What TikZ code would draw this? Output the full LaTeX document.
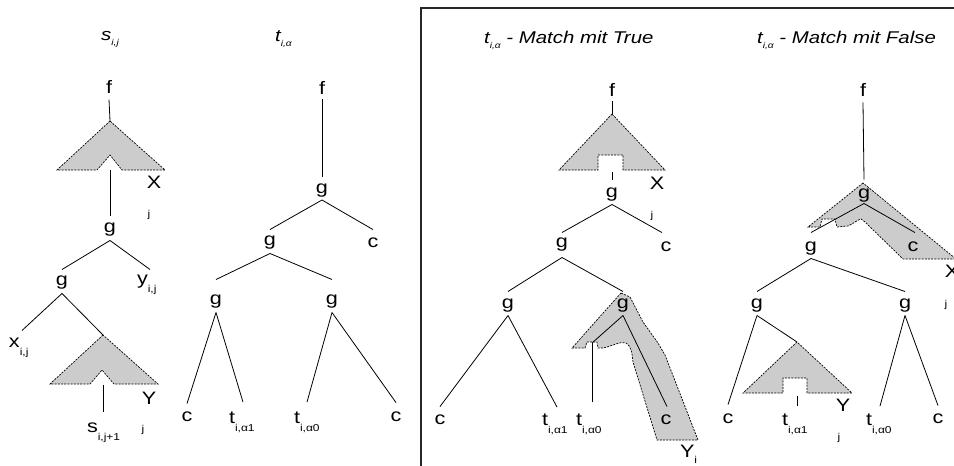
\documentclass[tikz,border=0pt]{standalone}
\usepackage{fontspec}
\setmainfont{Liberation Sans}[FakeStretch=1.2]
\definecolor{shade}{RGB}{204,204,204}
\newcommand\sbx[1]{\raisebox{-8pt}{\fontsize{10}{11}\selectfont #1}}
\newcommand\sbxi[1]{\raisebox{-6pt}{\fontsize{10}{11}\selectfont #1}}
\newcommand\tsb[1]{\raisebox{-5pt}{\fontsize{8.5}{9}\selectfont\itshape #1}}
\newcommand\edge[4]{\draw[tree] ([yshift=-#2pt]#1.south) -- ([yshift=#4pt]#3.north);}
\begin{document}
\begin{tikzpicture}[x=1pt,y=-1pt,
  lab/.style={font=\fontsize{18}{21}\selectfont, inner sep=0pt, outer sep=0pt},
  labb/.style={lab, anchor=base west},
  ttl/.style={font=\fontsize{17}{20}\selectfont\itshape, inner sep=0pt, anchor=base west},
  small/.style={font=\fontsize{10}{11}\selectfont, inner sep=0pt},
  tree/.style={line width=0.8pt},
  hole/.style={fill=shade, draw=black, line width=0.7pt, dash pattern=on 2pt off 1.2pt},
  frame/.style={line width=1.2pt, draw=black!85}]
\useasboundingbox (0,0) rectangle (954,466);
% frame
\draw[frame] (421,466) -- (421,8) -- (954,8);
% ---------- shaded parts ----------
\coordinate (ax1) at (110,121); \coordinate (bx1) at (110,170);
\filldraw[hole] (ax1) -- (57,170) -- (97,170) -- (110,155) -- (122,170) -- (165,170) -- cycle;
\coordinate (ay1) at (103,335); \coordinate (by1) at (103,385);
\filldraw[hole] (ay1) -- (50,384) -- (90,384) -- (102,370) -- (114,384) -- (158,384) -- cycle;
\coordinate (ax3) at (612,114); \coordinate (bx3) at (612,172);
\filldraw[hole] (ax3) -- (559,170) -- (598,170) -- (598,155) -- (623,155) -- (623,170) -- (665,170) -- cycle;
\coordinate (jn3) at (592,343);
\filldraw[hole] (621,293) -- (572,348) -- (585,348) -- (587,342) -- (597,342) -- (598,348) -- (603,348)
  .. controls (613,346) and (620,341) .. (626,343) .. controls (631,346) and (632,352) .. (633,362)
  -- (657,440) -- (698,440) -- (665,355) -- (658,343) -- (643,322) -- (630,297) -- cycle;
\filldraw[hole] (863,183) -- (808,227) -- (820,227) -- (822,219) -- (835,219) -- (837,227) -- (848,226)
  .. controls (853,224) and (857,220) .. (861,219) -- (865,222) -- (903,259) -- (956,259) -- cycle;
\coordinate (ay4) at (797,342); \coordinate (by4) at (797,396);
\filldraw[hole] (ay4) -- (743,393) -- (783,393) -- (783,378) -- (807,378) -- (807,393) -- (852,393) -- cycle;
% ---------- tree 1 ----------
\node[ttl] (T1) at (101,40) {s\tsb{i,j}};
\node[lab] (f1) at (109,87) {f};
\node[lab] (X1) at (154,182) {X};
\node[small] (jX1) at (149,215) {j};
\node[lab] (g1) at (110,230) {g};
\node[lab] (g2) at (62,283) {g};
\node[labb] (yij) at (137,284) {y\sbx{i,j}};
\node[labb] (xij) at (9,347) {x\sbx{i,j}};
\node[lab] (Y1) at (149,398) {Y};
\node[small] (jY1) at (143,430) {j};
\node[labb] (sij) at (87,432) {s\sbx{i,j+1}};
\draw[tree] ([yshift=-6pt]f1.south) -- (ax1);
\draw[tree] (bx1) -- ([yshift=7pt]g1.north);
\edge{g1}{3.8}{g2}{6.8}
\draw[tree] ([yshift=-3.8pt]g1.south) -- ([xshift=13pt,yshift=5pt]yij.north west);
\draw[tree] ([yshift=-3.8pt]g2.south) -- ([xshift=13pt,yshift=7pt]xij.north west);
\draw[tree] ([yshift=-3.8pt]g2.south) -- (ay1);
\draw[tree] (by1) -- ([xshift=16pt,yshift=10pt]sij.north west);
% ---------- tree 2 ----------
\node[ttl] (T2) at (275,41) {t\tsb{i,α}};
\node[lab] (f2) at (322,88) {f};
\node[lab] (g3) at (322,191) {g};
\node[lab] (g4) at (270,243) {g};
\node[lab] (c1) at (373,243) {c};
\node[lab] (g5) at (216,302) {g};
\node[lab] (g6) at (332,302) {g};
\node[lab] (c2) at (187,417) {c};
\node[labb] (t21) at (229,423) {t\sbx{i,α1}};
\node[labb] (t20) at (294,423) {t\sbx{i,α0}};
\node[lab] (c3) at (396,417) {c};
\edge{f2}{4.8}{g3}{7}
\edge{g3}{2.3}{g4}{6.8}
\edge{g3}{2.3}{c1}{8.5}
\edge{g4}{3.8}{g5}{15.8}
\edge{g4}{3.8}{g6}{15.8}
\edge{g5}{3.8}{c2}{8.5}
\draw[tree] ([yshift=-3.8pt]g5.south) -- ([xshift=14pt,yshift=9.3pt]t21.north west);
\draw[tree] ([yshift=-3.8pt]g6.south) -- ([xshift=13pt,yshift=9.3pt]t20.north west);
\edge{g6}{3.8}{c3}{9.5}
% ---------- tree 3 ----------
\node[ttl] (T3) at (484,43) {t\tsb{i,α} - Match mit True};
\node[lab] (f3) at (612,90) {f};
\node[lab] (X3) at (657,183) {X};
\node[small] (jX3) at (652,216) {j};
\node[lab] (g7) at (612,195) {g};
\node[lab] (g8) at (562,245) {g};
\node[lab] (c4) at (666,247) {c};
\node[lab] (g9) at (508,305.5) {g};
\node[lab] (g10) at (623,305.5) {g};
\node[lab] (c5) at (440,420) {c};
\node[labb] (t31) at (542,425) {t\sbx{i,α1}};
\node[labb] (t30) at (576,425) {t\sbx{i,α0}};
\node[lab] (c6) at (666,420) {c};
\node[labb] (Y3) at (680,457) {Y\sbxi{i}};
\draw[tree] ([yshift=-4.8pt]f3.south) -- (ax3);
\draw[tree] (bx3) -- ([yshift=8.8pt]g7.north);
\edge{g7}{2.8}{g8}{5.8}
\draw[tree] ([yshift=-2.8pt]g7.south) -- ([xshift=-4pt,yshift=9.5pt]c4.north);
\edge{g8}{5.8}{g9}{7.3}
\edge{g8}{5.8}{g10}{7.3}
\edge{g9}{3.3}{c5}{8.5}
\draw[tree] ([yshift=-3.3pt]g9.south) -- ([xshift=15pt,yshift=6.3pt]t31.north west);
\draw[tree] ([yshift=-3.3pt]g10.south) -- (jn3);
\draw[tree] (jn3) -- ([xshift=16pt,yshift=11.3pt]t30.north west);
\draw[tree] ([yshift=-3.3pt]g10.south) -- ([xshift=1pt,yshift=8.5pt]c6.north);
% ---------- tree 4 ----------
\node[ttl] (T4) at (757,43) {t\tsb{i,α} - Match mit False};
\node[lab] (f4) at (863,90) {f};
\node[lab] (g11) at (864,195.5) {g};
\node[lab] (c7) at (913,247) {c};
\node[lab] (X4) at (952,271) {X};
\node[small] (jX4) at (946,305) {j};
\node[lab] (g12) at (811,249) {g};
\node[lab] (g13) at (757,305.5) {g};
\node[lab] (g14) at (905,305.5) {g};
\node[lab] (c8) at (728,419) {c};
\node[lab] (Y4) at (843,405) {Y};
\node[small] (jY4) at (839,438) {j};
\node[labb] (t41) at (782,425) {t\sbx{i,α1}};
\node[labb] (t40) at (866,425) {t\sbx{i,α0}};
\node[lab] (c9) at (938,419) {c};
\edge{f4}{5.8}{g11}{9.3}
\edge{g11}{1.3}{g12}{9.8}
\draw[tree] ([yshift=-1.3pt]g11.south) -- ([xshift=2pt,yshift=9.5pt]c7.north);
\edge{g12}{2.8}{g13}{7.3}
\edge{g12}{2.8}{g14}{7.3}
\edge{g13}{3.3}{c8}{9.5}
\draw[tree] ([yshift=-3.3pt]g13.south) -- (ay4);
\draw[tree] (by4) -- ([xshift=15pt,yshift=7.3pt]t41.north west);
\draw[tree] ([yshift=-3.3pt]g14.south) -- ([xshift=14pt,yshift=7.3pt]t40.north west);
\edge{g14}{3.3}{c9}{8.5}
\end{tikzpicture}
\end{document}
